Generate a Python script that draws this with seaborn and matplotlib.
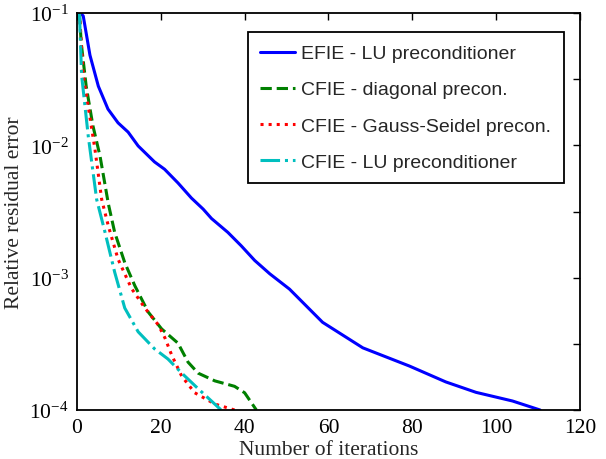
import numpy as np
import pandas as pd
import matplotlib
matplotlib.use('Agg')
import matplotlib.pyplot as plt
import seaborn as sns
from matplotlib.ticker import NullFormatter, FixedLocator

# iterations / relative residual error
efie_lu_it = [0.8, 1.5, 3.1, 5.1, 7.4, 9.8, 12.2, 14.6, 18.5, 20.9, 24.1, 27.3, 30.1, 32.1,
              36, 39.2, 42.4, 46, 50.7, 58.6, 68.2, 79.3, 88, 95.2, 103.9, 110.5]
efie_lu_res = [0.1, 0.095, 0.048, 0.028, 0.0188, 0.0148, 0.0126, 0.0099, 0.0075, 0.0066,
               0.0052, 0.0040, 0.0033, 0.0028, 0.0022, 0.00174, 0.00135, 0.00107, 8.2e-4,
               4.6e-4, 2.95e-4, 2.15e-4, 1.63e-4, 1.36e-4, 1.17e-4, 1.0e-4]

cfie_diag_it = [0.6, 1.0, 2.2, 3.8, 5.5, 7.5, 9.0, 11.4, 13.8, 17, 20.2, 24.1, 26.5, 28.9,
                32.9, 37.6, 40, 42.8]
cfie_diag_res = [0.1, 0.060, 0.028, 0.0141, 0.0083, 0.0036, 0.0022, 0.0013, 8.7e-4, 5.5e-4,
                 4.1e-4, 3.2e-4, 2.3e-4, 1.9e-4, 1.66e-4, 1.51e-4, 1.35e-4, 1.0e-4]

cfie_gs_it = [0.6, 1.5, 4.3, 5.9, 7.5, 9.8, 13, 16.2, 19.4, 21, 22.6, 25, 28.1, 32.9, 37.6]
cfie_gs_res = [0.1, 0.034, 0.0093, 0.0039, 0.00245, 0.00138, 8.3e-4, 5.9e-4, 4.4e-4, 3.5e-4,
               2.6e-4, 1.8e-4, 1.35e-4, 1.11e-4, 1.0e-4]

cfie_lu_it = [0.6, 1.1, 2.7, 4.7, 6.7, 9.0, 11.4, 14.6, 18.5, 21.7, 25, 28.9, 34.4]
cfie_lu_res = [0.1, 0.034, 0.0117, 0.0039, 0.0022, 0.0011, 5.9e-4, 3.9e-4, 2.9e-4, 2.43e-4,
               1.9e-4, 1.45e-4, 1.0e-4]

labels = ['EFIE - LU preconditioner', 'CFIE - diagonal precon.',
          'CFIE - Gauss-Seidel precon.', 'CFIE - LU preconditioner']

series = [
    (efie_lu_it, efie_lu_res, labels[0], '#0000ff', '-'),
    (cfie_diag_it, cfie_diag_res, labels[1], '#008000', '--'),
    (cfie_gs_it, cfie_gs_res, labels[2], '#ff0000', ':'),
    (cfie_lu_it, cfie_lu_res, labels[3], '#00bfbf', '-.'),
]

sns.set_style('white')
plt.rcParams['font.family'] = ['Liberation Serif', 'DejaVu Serif']
plt.rcParams['mathtext.fontset'] = 'custom'
plt.rcParams['mathtext.rm'] = 'Liberation Serif'
plt.rcParams['mathtext.it'] = 'Liberation Serif:italic'

fig = plt.figure(figsize=(6.06, 4.6), dpi=100)
ax = fig.add_axes([0.127, 0.1065, 0.83, 0.863])

for it, res, lab, col, ls in series:
    df = pd.DataFrame({'it': it, 'res': res})
    sns.lineplot(data=df, x='it', y='res', ax=ax, color=col, linestyle=ls,
                 linewidth=2.2, label=lab, sort=False, estimator=None)

ax.set_yscale('log')
ax.set_xlim(0, 120)
ax.set_ylim(1e-4, 1e-1)
ax.set_xticks([0, 20, 40, 60, 80, 100, 120])
ax.set_yticks([1e-4, 1e-3, 1e-2, 1e-1])
ax.yaxis.set_minor_locator(FixedLocator([10 ** -3.5, 10 ** -2.5, 10 ** -1.5]))
ax.yaxis.set_minor_formatter(NullFormatter())
ax.tick_params(which='both', direction='in', top=True, right=True, length=5,
               width=1.0, labelsize=15.5, colors='black', pad=6)
for sp in ax.spines.values():
    sp.set_linewidth(1.3)
    sp.set_color('black')

ax.set_xlabel('Number of iterations', fontsize=15.5, labelpad=2)
ax.set_ylabel('Relative residual error', fontsize=15.5, labelpad=4)

leg = ax.legend(loc='upper right', bbox_to_anchor=(0.968, 0.952), borderaxespad=0,
                fancybox=False, framealpha=1, edgecolor='black',
                prop={'family': 'Liberation Sans', 'size': 14},
                handlelength=1.8, handletextpad=0.3, labelspacing=0.95, borderpad=0.65)
leg.get_frame().set_linewidth(1.3)

fig.savefig('out.png', dpi=100)
